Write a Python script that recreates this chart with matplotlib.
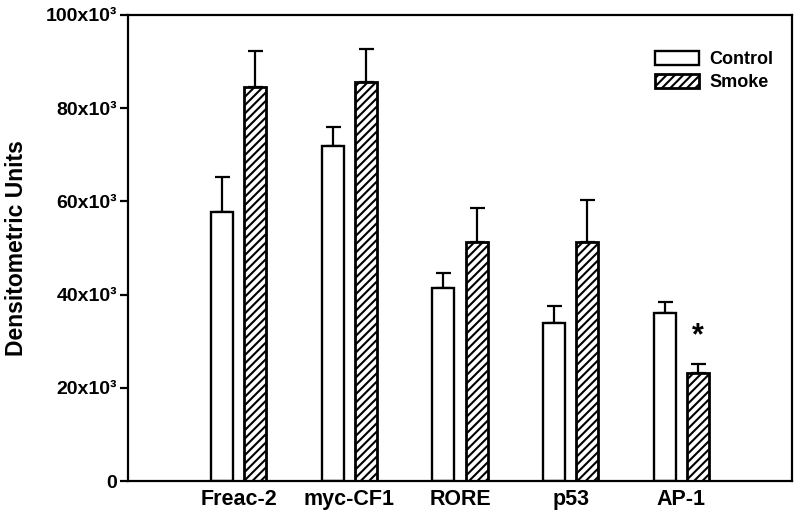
import matplotlib
matplotlib.use("Agg")
import matplotlib.pyplot as plt
import numpy as np

plt.rcParams['font.family'] = ['Liberation Sans', 'DejaVu Sans']
plt.rcParams['font.weight'] = 'bold'
plt.rcParams['hatch.linewidth'] = 1.5

categories = ['Freac-2', 'myc-CF1', 'RORE', 'p53', 'AP-1']
control = [57800, 71900, 41500, 33800, 36100]
control_err = [7500, 4100, 3100, 3700, 2300]
smoke = [84600, 85600, 51200, 51200, 23100]
smoke_err = [7700, 7200, 7400, 9200, 2100]
yticks = [0, 20000, 40000, 60000, 80000, 100000]
ytick_labels = ['0', '20x10³', '40x10³', '60x10³', '80x10³', '100x10³']
series_names = ['Control', 'Smoke']
signif_label = '*'
signif_value = 31000

fig = plt.figure(figsize=(8.0, 5.16), dpi=100)
ax = fig.add_axes([128/800, 35/516, 664/800, 466/516])

x = np.arange(1, len(categories) + 1)
w = 0.2
off = 0.15

ax.bar(x - off, control, width=w, color='white', edgecolor='black',
       linewidth=1.7, label=series_names[0], zorder=2)
ax.bar(x + off, smoke, width=w, color='white', edgecolor='black',
       linewidth=2.0, hatch='////', label=series_names[1], zorder=2)

zeros = [0] * len(categories)
ax.errorbar(x - off, control, yerr=[zeros, control_err], fmt='none',
            ecolor='black', elinewidth=1.6, capsize=5.4, capthick=1.6, zorder=1)
ax.errorbar(x + off, smoke, yerr=[zeros, smoke_err], fmt='none',
            ecolor='black', elinewidth=1.6, capsize=5.4, capthick=1.6, zorder=1)

ax.text(x[-1] + off, signif_value, signif_label, ha='center', va='center',
        fontsize=22, fontweight='bold')

ax.set_xlim(0, 6)
ax.set_ylim(0, 100000)
ax.set_xticks(x)
ax.set_xticklabels(categories, fontsize=15.5, fontweight='bold')
ax.set_yticks(yticks)
ax.set_yticklabels(ytick_labels, fontsize=14, fontweight='bold')
ax.tick_params(axis='x', length=0, pad=6)
ax.tick_params(axis='y', direction='out', length=6, width=1.6, pad=2)

for s in ax.spines.values():
    s.set_linewidth(1.6)

ax.set_ylabel('Densitometric Units', fontsize=16.5, fontweight='bold')
ax.yaxis.set_label_coords(-0.150, 0.5)

ax.legend(loc='upper left', bbox_to_anchor=(0.794, 0.922), frameon=False,
          fontsize=13, handlelength=2.4, handleheight=0.75,
          handletextpad=0.6, labelspacing=0.33, borderpad=0, borderaxespad=0)

fig.savefig('out.png', dpi=100)
